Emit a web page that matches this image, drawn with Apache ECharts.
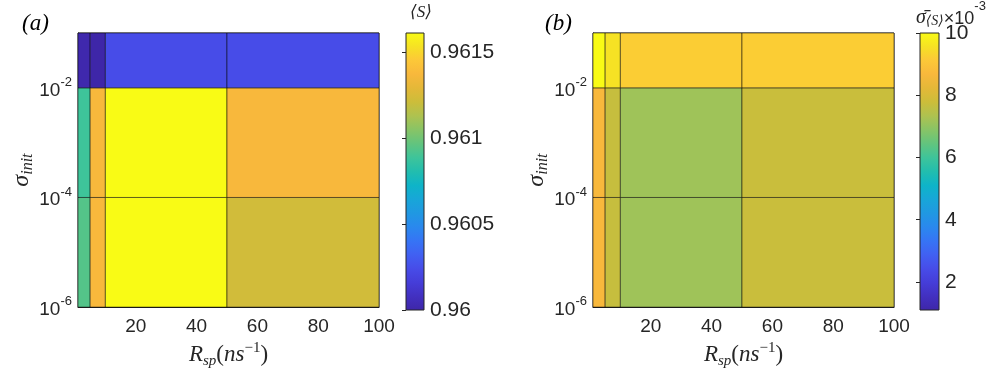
<!DOCTYPE html>
<html>
<head>
<meta charset="utf-8">
<script src="https://cdn.jsdelivr.net/npm/echarts@6/dist/echarts.min.js"></script>
<style>
html, body { margin: 0; padding: 0; background: #fff; }
#chart { width: 997px; height: 374px; }
</style>
</head>
<body>
<div id="chart"></div>
<script>
// cell edges (pcolor style)
const rspEdges = [1, 5, 10, 50, 100];
const sigmaEdges = [1e-6, 1e-4, 1e-2, 1e-1];
// rows: bottom (1e-6..1e-4) -> top (1e-2..1e-1); columns follow rspEdges
const meanS = [
    [0.960934, 0.961369, 0.96161, 0.961224],
    [0.960886, 0.961369, 0.96161, 0.961369],
    [0.960016, 0.960000, 0.960242, 0.960242]
];
const sigmaS = [
    [8.67, 7.69, 7.15, 7.73],
    [8.67, 7.69, 7.15, 7.73],
    [10.0, 9.56, 9.20, 9.20]
];
const xTicks = [20, 40, 60, 80, 100];
const yTicks = [1e-6, 1e-4, 1e-2];
const cbTicksA = [0.96, 0.9605, 0.961, 0.9615];
const cbTicksB = [2, 4, 6, 8, 10];
const rangeA = [0.96, 0.96161];
const rangeB = [1.1, 10];
const parula = ['#3e26a8', '#4230c0', '#453dd8', '#474ce8', '#4160f2', '#3674f5', '#2a88ee',
    '#2098e2', '#18a6d8', '#0eb4c8', '#22bdae', '#3ec49a', '#62c47e', '#88c466', '#aec250',
    '#ccbd3a', '#e4b838', '#f8b83c', '#fcc838', '#f6e224', '#f9fb15'];

const axisColor = '#262626';
const tickFont = 'Liberation Sans, Arial, sans-serif';
const mathFont = 'Liberation Serif, DejaVu Serif, serif';

function buildCells(vals) {
    let out = [];
    for (let r = 0; r < vals.length; r++) {
        for (let c = 0; c < vals[r].length; c++) {
            out.push([rspEdges[c], rspEdges[c + 1], sigmaEdges[r], sigmaEdges[r + 1], vals[r][c]]);
        }
    }
    return out;
}

function renderCell(params, api) {
    const p0 = api.coord([api.value(0), api.value(3)]);
    const p1 = api.coord([api.value(1), api.value(2)]);
    return {
        type: 'rect',
        shape: { x: p0[0], y: p0[1], width: p1[0] - p0[0], height: p1[1] - p0[1] },
        style: { fill: api.visual('color'), stroke: 'rgba(0,0,0,0.5)', lineWidth: 1 }
    };
}

const gradStops = parula.map((c, i) => ({ offset: i / (parula.length - 1), color: c }));
function renderBar(params, api) {
    const p0 = api.coord([0, api.value(1)]);
    const p1 = api.coord([1, api.value(0)]);
    return {
        type: 'rect',
        shape: { x: p0[0], y: p0[1], width: p1[0] - p0[0], height: p1[1] - p0[1] },
        style: {
            fill: new echarts.graphic.LinearGradient(0, 1, 0, 0, gradStops),
            stroke: axisColor, lineWidth: 1
        }
    };
}

const supRich = {
    b: { fontFamily: tickFont, fontSize: 19, color: axisColor, lineHeight: 24, verticalAlign: 'bottom' },
    s: { fontFamily: tickFont, fontSize: 13, color: axisColor, lineHeight: 14, verticalAlign: 'top' }
};

function mainX(idx) {
    return {
        type: 'value', gridIndex: idx, min: 1, max: 100,
        name: '{i|R}{sub|sp}{n|(}{i|ns}{sup|−1}{n|)}',
        nameLocation: 'middle', nameGap: 31,
        nameTextStyle: {
            rich: {
                i: { fontFamily: mathFont, fontStyle: 'italic', fontSize: 23, color: axisColor, lineHeight: 28 },
                n: { fontFamily: mathFont, fontSize: 23, color: axisColor, lineHeight: 28 },
                sub: { fontFamily: mathFont, fontStyle: 'italic', fontSize: 15, color: axisColor, lineHeight: 15, verticalAlign: 'bottom' },
                sup: { fontFamily: mathFont, fontSize: 15, color: axisColor, lineHeight: 15, verticalAlign: 'top' }
            }
        },
        axisLine: { show: true, lineStyle: { color: axisColor } },
        axisTick: { show: false },
        splitLine: { show: false },
        axisLabel: { customValues: xTicks, fontFamily: tickFont, fontSize: 19, color: axisColor, margin: 10 }
    };
}

function mainY(idx) {
    return {
        type: 'log', logBase: 10, gridIndex: idx, min: 1e-6, max: 1e-1,
        name: '{i|σ}{sub|init}',
        nameLocation: 'middle', nameGap: 42, nameRotate: 90,
        nameTextStyle: {
            rich: {
                i: { fontFamily: mathFont, fontStyle: 'italic', fontSize: 24, color: axisColor, lineHeight: 28 },
                sub: { fontFamily: mathFont, fontStyle: 'italic', fontSize: 16, color: axisColor, lineHeight: 15, verticalAlign: 'bottom' }
            }
        },
        axisLine: { show: true, lineStyle: { color: axisColor } },
        axisTick: { show: false },
        splitLine: { show: false },
        axisLabel: {
            customValues: yTicks, margin: 6,
            formatter: v => {
                const e = Math.round(Math.log10(v));
                if (!yTicks.some(t => Math.round(Math.log10(t)) === e)) return '';
                return '{b|10}{s|' + e + '}';
            },
            rich: supRich
        }
    };
}

function barX(idx) {
    return { type: 'value', gridIndex: idx, min: 0, max: 1, show: false };
}

function barY(idx, range, ticks) {
    return {
        type: 'value', gridIndex: idx, min: range[0], max: range[1], position: 'right',
        axisLine: { show: false },
        splitLine: { show: false },
        axisTick: { show: true, inside: true, length: 4, customValues: ticks, lineStyle: { color: axisColor } },
        axisLabel: {
            customValues: ticks, fontFamily: tickFont, fontSize: 21, color: axisColor, margin: 6,
            formatter: v => String(+v.toFixed(4))
        }
    };
}

const chart = echarts.init(document.getElementById('chart'));
chart.setOption({
    animation: false,
    grid: [
        { left: 78, top: 33, width: 301, height: 277, show: true, borderColor: axisColor, borderWidth: 1 },
        { left: 406, top: 33, width: 18, height: 277 },
        { left: 593, top: 33, width: 301, height: 277, show: true, borderColor: axisColor, borderWidth: 1 },
        { left: 920, top: 33, width: 19, height: 277 }
    ],
    xAxis: [mainX(0), barX(1), mainX(2), barX(3)],
    yAxis: [mainY(0), barY(1, rangeA, cbTicksA), mainY(2), barY(3, rangeB, cbTicksB)],
    visualMap: [
        { type: 'continuous', show: false, seriesIndex: 0, dimension: 4, min: rangeA[0], max: rangeA[1], inRange: { color: parula } },
        { type: 'continuous', show: false, seriesIndex: 2, dimension: 4, min: rangeB[0], max: rangeB[1], inRange: { color: parula } }
    ],
    series: [
        { type: 'custom', xAxisIndex: 0, yAxisIndex: 0, renderItem: renderCell, data: buildCells(meanS), encode: { x: [0, 1], y: [2, 3] } },
        { type: 'custom', xAxisIndex: 1, yAxisIndex: 1, renderItem: renderBar, data: [rangeA], encode: { y: [0, 1] }, silent: true },
        { type: 'custom', xAxisIndex: 2, yAxisIndex: 2, renderItem: renderCell, data: buildCells(sigmaS), encode: { x: [0, 1], y: [2, 3] } },
        { type: 'custom', xAxisIndex: 3, yAxisIndex: 3, renderItem: renderBar, data: [rangeB], encode: { y: [0, 1] }, silent: true }
    ],
    graphic: [
        { type: 'text', left: 22, top: 12, style: { text: '(a)', font: 'italic 23px ' + mathFont, fill: '#000' } },
        { type: 'text', left: 545, top: 12, style: { text: '(b)', font: 'italic 23px ' + mathFont, fill: '#000' } },
        { type: 'text', left: 410, top: 4, style: { text: '⟨S⟩', font: 'italic 17px ' + mathFont, fill: axisColor } },
        {
            type: 'text', left: 916, top: 0,
            style: {
                text: '{g|σ̄}{sub|⟨S⟩}{x|×10}{sup|-3}',
                rich: {
                    g: { fontFamily: mathFont, fontStyle: 'italic', fontSize: 20, fill: axisColor, lineHeight: 28, verticalAlign: 'bottom' },
                    sub: { fontFamily: mathFont, fontStyle: 'italic', fontSize: 14, fill: axisColor, lineHeight: 16, verticalAlign: 'bottom' },
                    x: { fontFamily: tickFont, fontSize: 18, fill: axisColor, lineHeight: 24, verticalAlign: 'bottom' },
                    sup: { fontFamily: tickFont, fontSize: 13, fill: axisColor, lineHeight: 15, verticalAlign: 'top' }
                }
            }
        }
    ]
});
</script>
</body>
</html>
